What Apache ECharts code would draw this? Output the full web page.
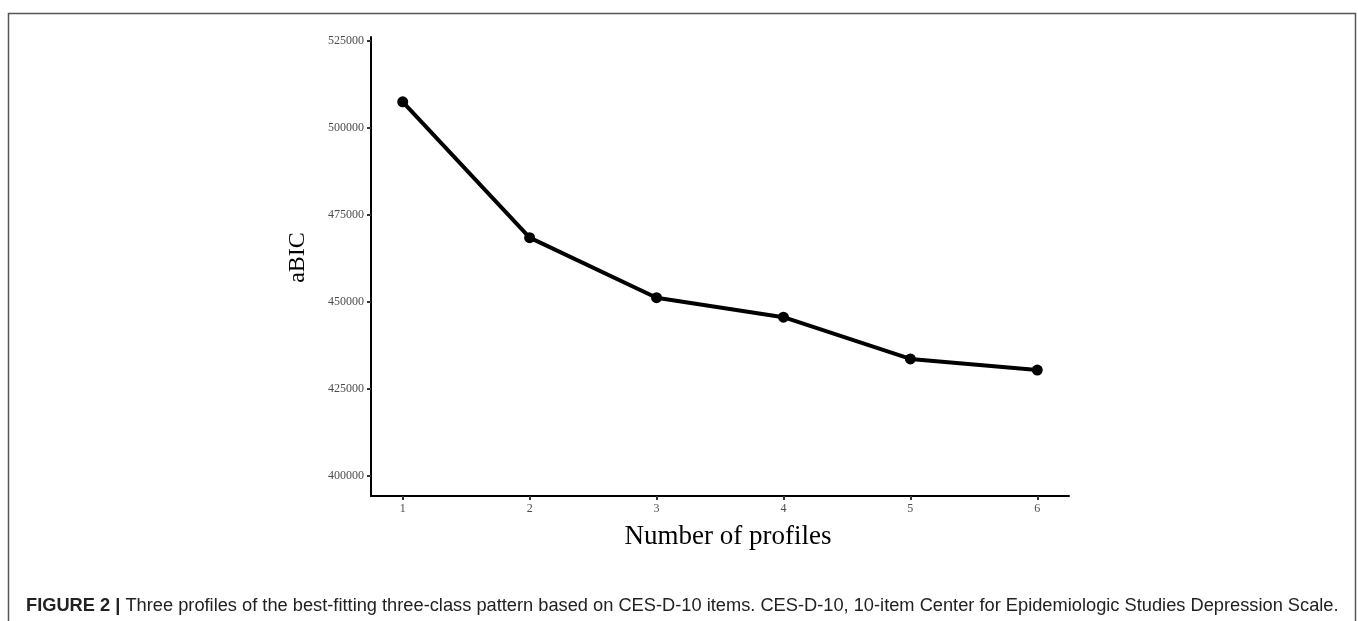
<!DOCTYPE html>
<html>
<head>
<meta charset="utf-8">
<script src="https://cdn.jsdelivr.net/npm/echarts@6/dist/echarts.min.js"></script>
<style>
html,body{margin:0;padding:0;background:#fff;}
#chart{width:1358px;height:621px;}
</style>
</head>
<body>
<div id="chart"></div>
<script>
// Data
const profiles = [1, 2, 3, 4, 5, 6];
const abicValues = [507450, 468400, 451150, 445550, 433550, 430350];
const yTickValues = [400000, 425000, 450000, 475000, 500000, 525000];
const xTickValues = [1, 2, 3, 4, 5, 6];
const xAxisTitle = 'Number of profiles';
const yAxisTitle = 'aBIC';
const captionBold = 'FIGURE 2 |';
const captionText = 'Three profiles of the best-fitting three-class pattern based on CES-D-10 items. CES-D-10, 10-item Center for Epidemiologic Studies Depression Scale.';

const chart = echarts.init(document.getElementById('chart'), null, {renderer: 'canvas'});
const serif = '"Liberation Serif", "Times New Roman", serif';
const sans = '"Liberation Sans", Arial, sans-serif';

chart.setOption({
  animation: false,
  backgroundColor: '#ffffff',
  grid: {left: 371, right: 289, top: 37, bottom: 125, containLabel: false},
  xAxis: {
    type: 'value',
    min: 0.75,
    max: 6.25,
    name: xAxisTitle,
    nameLocation: 'middle',
    nameGap: 27,
    nameTextStyle: {fontFamily: serif, fontSize: 27, color: '#000', padding: [0, 0, 0, 16]},
    axisLine: {show: true, lineStyle: {color: '#000', width: 2}},
    axisTick: {show: true, length: 4, lineStyle: {color: '#333', width: 2}, customValues: xTickValues},
    axisLabel: {fontFamily: serif, fontSize: 12, color: '#4d4d4d', margin: 7, customValues: xTickValues,
      formatter: v => String(v)},
    splitLine: {show: false}
  },
  yAxis: {
    type: 'value',
    min: 394170,
    max: 526060,
    name: yAxisTitle,
    nameLocation: 'middle',
    nameRotate: 90,
    nameGap: 61,
    nameTextStyle: {fontFamily: serif, fontSize: 24, color: '#000', padding: [0, 0, 0, 18]},
    axisLine: {show: true, lineStyle: {color: '#000', width: 2}},
    axisTick: {show: true, length: 4, lineStyle: {color: '#333', width: 2}, customValues: yTickValues},
    axisLabel: {fontFamily: serif, fontSize: 12, color: '#4d4d4d', margin: 7, customValues: yTickValues,
      formatter: v => String(Math.round(v))},
    splitLine: {show: false}
  },
  series: [{
    type: 'line',
    data: profiles.map((p, i) => [p, abicValues[i]]),
    symbol: 'circle',
    symbolSize: 11,
    itemStyle: {color: '#000'},
    lineStyle: {color: '#000', width: 4},
    z: 5
  }],
  graphic: [
    {
      type: 'rect',
      silent: true,
      shape: {x: 8.5, y: 13.5, width: 1347, height: 700},
      style: {fill: 'none', stroke: '#555', lineWidth: 1.5}
    },
    {
      type: 'text',
      silent: true,
      x: 26,
      y: 606,
      style: {
        text: '{b|' + captionBold + '} {n|' + captionText + '}',
        verticalAlign: 'middle',
        fontFamily: sans,
        fontSize: 18.25,
        fill: '#222',
        rich: {
          b: {fontWeight: 'bold', fontSize: 18.25, fontFamily: sans, fill: '#222'},
          n: {fontSize: 18.25, fontFamily: sans, fill: '#222'}
        }
      }
    }
  ]
});
</script>
</body>
</html>
